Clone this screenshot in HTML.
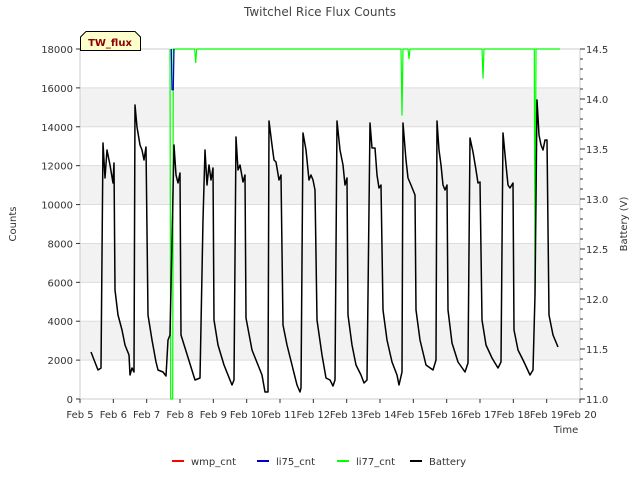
<!DOCTYPE html>
<html><head><meta charset="utf-8"><style>
body{margin:0;background:#fff;}
svg{display:block;font-family:"DejaVu Sans","Liberation Sans",sans-serif;}
</style></head><body>
<svg id="chart" width="640" height="480">
<text x="320" y="16" text-anchor="middle" font-size="12" fill="#444">Twitchel Rice Flux Counts</text>
<g id="bands"></g>
<g id="grid"></g>
<rect x="80" y="49" width="500" height="350" fill="none" stroke="#ccc"/>
<g id="series"></g>
<g id="axes" font-size="10" fill="#333"></g>
<text x="16" y="224" transform="rotate(-90 16 224)" text-anchor="middle" font-size="10" fill="#333">Counts</text>
<text x="627" y="224" transform="rotate(-90 627 224)" text-anchor="middle" font-size="10" fill="#333">Battery (V)</text>
<text x="566" y="433" text-anchor="middle" font-size="10" fill="#333">Time</text>
<g>
<path d="M80.5,50.5 L80.5,37 L86,31.5 L135,31.5 L140.5,37 L140.5,50.5 Z" fill="#ffffcc" stroke="#000"/>
<text x="110" y="46" text-anchor="middle" font-size="10" font-weight="bold" fill="#8b0000">TW_flux</text>
</g>
<g id="legend" font-size="10" fill="#333"></g>
</svg>
<script>
const xTickLabels=["Feb 5","Feb 6","Feb 7","Feb 8","Feb 9","Feb 10","Feb 11","Feb 12","Feb 13","Feb 14","Feb 15","Feb 16","Feb 17","Feb 18","Feb 19","Feb 20"];
const yTicks=[0,2000,4000,6000,8000,10000,12000,14000,16000,18000];
const y2Ticks=[11.0,11.5,12.0,12.5,13.0,13.5,14.0,14.5];
const batDays=[0.33,0.54,0.63,0.69,0.75,0.81,0.90,0.99,1.02,1.05,1.14,1.26,1.35,1.47,1.50,1.56,1.62,1.65,1.71,1.80,1.86,1.92,1.98,2.04,2.16,2.28,2.34,2.49,2.58,2.64,2.70,2.82,2.88,2.94,3.00,3.03,3.45,3.60,3.69,3.75,3.81,3.87,3.93,3.99,4.02,4.14,4.32,4.56,4.62,4.68,4.74,4.80,4.89,4.95,4.98,5.16,5.34,5.46,5.55,5.64,5.67,5.76,5.82,5.88,5.97,6.03,6.09,6.21,6.36,6.51,6.60,6.63,6.69,6.78,6.87,6.93,6.99,7.05,7.11,7.26,7.38,7.50,7.59,7.65,7.71,7.80,7.89,7.95,8.01,8.04,8.16,8.28,8.43,8.52,8.61,8.70,8.76,8.85,8.91,8.97,9.03,9.09,9.21,9.36,9.51,9.57,9.66,9.69,9.78,9.84,9.93,9.99,10.05,10.08,10.20,10.38,10.59,10.68,10.71,10.77,10.83,10.89,10.95,11.01,11.04,11.16,11.34,11.55,11.64,11.70,11.79,11.88,11.94,12.00,12.06,12.18,12.36,12.54,12.63,12.69,12.78,12.84,12.90,12.99,13.02,13.14,13.32,13.50,13.59,13.65,13.71,13.77,13.83,13.89,13.95,14.01,14.07,14.19,14.34];
const batVolts=[11.47,11.29,11.31,13.56,13.21,13.49,13.34,13.16,13.36,12.09,11.84,11.69,11.54,11.44,11.24,11.31,11.27,13.94,13.72,13.54,13.49,13.39,13.52,11.84,11.59,11.37,11.29,11.27,11.23,11.59,11.64,13.54,13.24,13.16,13.26,11.64,11.19,11.21,12.79,13.49,13.14,13.34,13.19,13.31,11.79,11.54,11.34,11.14,11.19,13.62,13.29,13.34,13.17,13.24,11.81,11.49,11.34,11.24,11.07,11.07,13.78,13.54,13.39,13.37,13.19,13.24,11.74,11.54,11.34,11.14,11.07,11.11,13.66,13.49,13.19,13.24,13.19,13.09,11.79,11.44,11.21,11.19,11.13,11.19,13.78,13.49,13.34,13.14,13.21,11.84,11.54,11.34,11.24,11.16,11.19,13.76,13.51,13.51,13.24,13.11,13.14,11.89,11.59,11.37,11.24,11.14,11.27,13.76,13.39,13.21,13.14,13.09,13.04,11.89,11.59,11.34,11.29,11.39,13.78,13.49,13.34,13.14,13.09,13.14,11.89,11.56,11.37,11.27,11.36,13.61,13.47,13.29,13.16,13.17,11.79,11.54,11.41,11.31,11.37,13.66,13.34,13.14,13.11,13.16,11.69,11.49,11.37,11.24,11.29,12.04,13.99,13.64,13.54,13.49,13.59,13.59,11.84,11.64,11.52];
const li77Days=[2.70,2.72,2.78,2.80,3.44,3.47,3.50,9.63,9.66,9.69,9.84,9.87,9.90,12.06,12.09,12.12,13.63,13.65,13.68,14.40];
const li77Vals=[18000,0,0,18000,18000,17300,18000,18000,14600,18000,18000,17500,18000,18000,16500,18000,18000,5300,18000,18000];
const li75Days=[2.74,2.76,2.80,2.82];
const li75Vals=[18000,15900,15900,18000];
const NS="http://www.w3.org/2000/svg";
const X0=80,X1=580,Y0=399,Y1=49;
const xs=d=>X0+d*(X1-X0)/15;
const ys=v=>Y0-(v/18000)*(Y0-Y1);
const y2s=v=>Y0-(v-11)/3.5*(Y0-Y1);
function mk(tag,attrs,parent){const e=document.createElementNS(NS,tag);for(const k in attrs)e.setAttribute(k,attrs[k]);parent.appendChild(e);return e;}
const bands=document.getElementById('bands'),grid=document.getElementById('grid'),axes=document.getElementById('axes'),series=document.getElementById('series'),legend=document.getElementById('legend');
for(let i=0;i<yTicks.length-1;i++){if(i%2===1){const r=mk('rect',{x:X0,y:ys(yTicks[i+1]),width:X1-X0,height:ys(yTicks[i])-ys(yTicks[i+1]),fill:'#f2f2f2'},bands);

}}
yTicks.forEach(v=>{const l=mk('line',{x1:X0,x2:X1,y1:ys(v),y2:ys(v),stroke:'#ddd'},grid);


mk('line',{x1:X0-4,x2:X0,y1:ys(v),y2:ys(v),stroke:'#333'},axes);
const t=mk('text',{x:X0-7,y:ys(v)+4,'text-anchor':'end'},axes);t.textContent=v;

});
xTickLabels.forEach((s,i)=>{mk('line',{x1:xs(i),x2:xs(i),y1:Y0,y2:Y0+4,stroke:'#333'},axes);
const t=mk('text',{x:xs(i),y:418,'text-anchor':'middle'},axes);t.textContent=s;

});
for(let k=0;k<=35;k++){const v=11+k*0.1;mk('line',{x1:X1,x2:X1+(k%5===0?5:3),y1:y2s(v),y2:y2s(v),stroke:'#333'},axes);}
y2Ticks.forEach(v=>{const t=mk('text',{x:X1+6,y:y2s(v)+4,'text-anchor':'start'},axes);t.textContent=v.toFixed(1);

});
function path(days,vals,sc,color,w,name){const d=days.map((t,i)=>(i?'L':'M')+xs(t).toFixed(1)+','+sc(vals[i]).toFixed(1)).join('');
const p=mk('path',{d:d,fill:'none',stroke:color,'stroke-width':w,'stroke-linejoin':'round'},series);

}
path(li77Days,li77Vals,ys,'#00ff00',1.2,'li77-line');
path(li75Days,li75Vals,ys,'#0000cc',1.2,'li75-line');
path(batDays,batVolts,y2s,'#000',1.5,'battery-line');
const leg=[['wmp_cnt','#ff0000',172],['li75_cnt','#0000cc',257],['li77_cnt','#00ff00',337],['Battery','#000',410]];
leg.forEach(([n,c,x])=>{const g=mk('g',{},legend);


mk('line',{x1:x,x2:x+12,y1:461,y2:461,stroke:c,'stroke-width':2},g);
const t=mk('text',{x:x+19,y:465},g);t.textContent=n;});
</script>
</body></html>
